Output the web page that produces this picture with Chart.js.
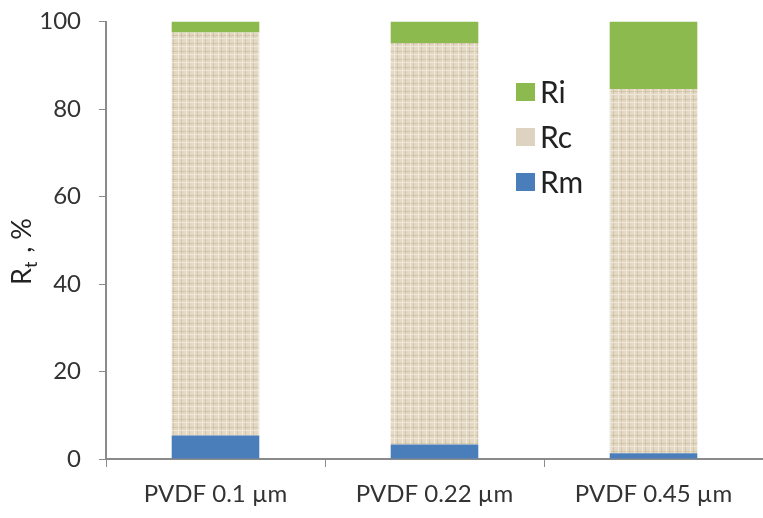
<!DOCTYPE html>
<html>
<head>
<meta charset="utf-8">
<script src="https://cdn.jsdelivr.net/npm/chart.js@4.4.1/dist/chart.umd.min.js"></script>
<style>
  html, body { margin: 0; padding: 0; background: #fff; }
  #wrap { width: 763px; height: 518px; position: relative; }
</style>
</head>
<body>
<div id="wrap"><canvas id="chart"></canvas></div>
<script>
// membranes and resistance shares (% of total)
const categories = ['PVDF 0.1 \u00b5m', 'PVDF 0.22 \u00b5m', 'PVDF 0.45 \u00b5m'];
const rmValues = [5.4, 3.3, 1.3];
const rcValues = [92.1, 91.8, 83.3];
const riValues = [2.5, 4.9, 15.4];
const yTicks = [0, 20, 40, 60, 80, 100];

const FONT = 'Lato, "Open Sans", sans-serif';

// beige woven texture for Rc
function makeTexture() {
    const c = document.createElement('canvas');
    c.width = 8; c.height = 8;
    const g = c.getContext('2d');
    g.fillStyle = '#e4d9c5';
    g.fillRect(0, 0, 8, 8);
    g.fillStyle = '#d2c4a8';
    g.fillRect(0, 3, 8, 1);
    g.fillRect(5, 0, 1, 8);
    g.fillStyle = '#efe7d8';
    g.fillRect(0, 6, 8, 1);
    g.fillRect(2, 0, 1, 8);
    return g.createPattern(c, 'repeat');
}
const rcPattern = makeTexture();

// legend drawn inside the plot, top item = last dataset
const innerLegend = {
    id: 'innerLegend',
    afterDraw(chart) {
        const ctx = chart.ctx;
        const ds = chart.data.datasets.slice().reverse();
        ctx.save();
        ctx.font = '30px ' + FONT;
        ctx.textBaseline = 'middle';
        ds.forEach((d, i) => {
            const y = 92 + i * 45;
            ctx.fillStyle = d.legendColor;
            ctx.fillRect(516, y - 9, 19, 18);
            ctx.fillStyle = '#222';
            ctx.fillText(d.label, 540, y + 1);
        });
        ctx.restore();
    }
};

// rotated y title with subscript
const yTitle = {
    id: 'yTitle',
    afterDraw(chart) {
        const ctx = chart.ctx;
        ctx.save();
        ctx.translate(31, 240);
        ctx.rotate(-Math.PI / 2);
        ctx.fillStyle = '#222';
        ctx.textBaseline = 'alphabetic';
        ctx.font = '27px ' + FONT;
        let x = -45;
        ctx.fillText('R', x, 0);
        x += ctx.measureText('R').width;
        ctx.font = '18px ' + FONT;
        ctx.fillText('t', x, 6);
        x += ctx.measureText('t').width + 2;
        ctx.font = '27px ' + FONT;
        ctx.fillText(' , %', x, 0);
        ctx.restore();
    }
};

const ctx = document.getElementById('chart').getContext('2d');
new Chart(ctx, {
    type: 'bar',
    data: {
        labels: categories,
        datasets: [
            { label: 'Rm', data: rmValues, backgroundColor: '#4a7ebb', legendColor: '#4a7ebb' },
            { label: 'Rc', data: rcValues, backgroundColor: rcPattern, legendColor: '#ddd3c0' },
            { label: 'Ri', data: riValues, backgroundColor: '#8cba4f', legendColor: '#8cba4f' }
        ]
    },
    options: {
        responsive: true,
        maintainAspectRatio: false,
        animation: false,
        layout: { autoPadding: false, padding: { top: 18, right: 0, left: 0, bottom: 0 } },
        datasets: { bar: { categoryPercentage: 0.4, barPercentage: 1.0 } },
        plugins: { legend: { display: false }, tooltip: { enabled: false } },
        scales: {
            x: {
                stacked: true,
                grid: { display: true, drawOnChartArea: false, drawTicks: true, tickLength: 8, color: '#8a8a8a', offset: true },
                border: { display: true, color: '#8a8a8a', width: 2 },
                ticks: { color: '#333', font: { family: FONT, size: 24 }, padding: 13, maxRotation: 0 },
                afterFit(scale) { scale.height = 59; }
            },
            y: {
                stacked: true,
                min: 0,
                max: 100,
                afterBuildTicks(scale) { scale.ticks = yTicks.map(v => ({ value: v })); },
                grid: { display: true, drawOnChartArea: false, drawTicks: true, tickLength: 7, color: '#8a8a8a' },
                border: { display: true, color: '#8a8a8a', width: 2 },
                ticks: { color: '#333', font: { family: FONT, size: 24, lineHeight: 0.3 }, padding: 18 },
                afterFit(scale) { scale.width = 106; }
            }
        }
    },
    plugins: [innerLegend, yTitle]
});
</script>
</body>
</html>
